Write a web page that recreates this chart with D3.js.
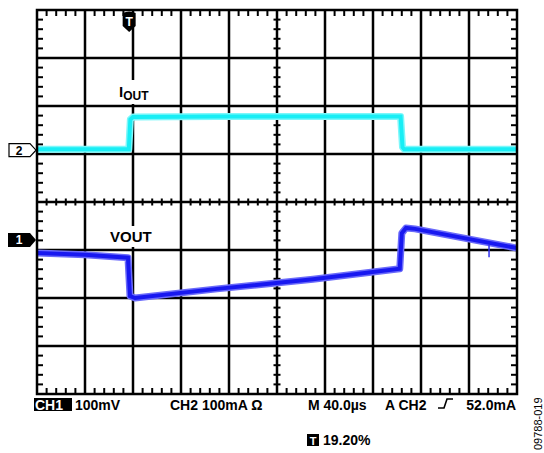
<!DOCTYPE html>
<html>
<head>
<meta charset="utf-8">
<script src="https://cdn.jsdelivr.net/npm/d3@7"></script>
<style>
  body { margin: 0; background: #fff; }
  svg text { font-family: "Liberation Sans", Arial, sans-serif; }
</style>
</head>
<body>
<div id="scope"></div>
<script>
// Screen size of the capture
var width = 544;
var height = 453;

// Graticule: 10 x 8 divisions, 5 minor ticks each
var xDivs = d3.range(0, 11);
var yDivs = d3.range(-4, 5);

// Time base: 40us/div, traces
var ch2Time = [0, 76.5, 77.8, 80, 150, 230, 303, 304.6, 306, 340, 400];
var ch2mA   = [2, 2, 64, 69, 70, 70, 70, 6, 2, 2, 2];

var ch1Time = [0, 40, 75.8, 77.5, 81.7, 150, 230, 302.3, 304, 307.5, 315, 400];
var ch1mV   = [-27, -31, -37, -117, -121, -102, -82, -60, 14, 25, 23, -17];

// small glitch on CH1 near the end of the record
var glitchTime = [376.7, 376.7];
var glitchmV   = [-10, -36];

// channel ground markers (in divisions from centre)
var ch1Offset = -0.79;
var ch2Offset = 1.08;

var svg = d3.select("#scope").append("svg")
  .attr("width", width)
  .attr("height", height);

var X = d3.scaleLinear().domain([0, 400]).range([37, 517]);
var Xdiv = d3.scaleLinear().domain([0, 10]).range([37, 517]);
var Ydiv = d3.scaleLinear().domain([-4, 4]).range([394, 10]);

// grid lines
var grid = svg.append("g");
grid.selectAll("line.v").data(xDivs.slice(1, -1)).enter().append("line")
  .attr("x1", function(d) { return Xdiv(d); })
  .attr("x2", function(d) { return Xdiv(d); })
  .attr("y1", Ydiv(4)).attr("y2", Ydiv(-4))
  .attr("stroke", "#000").attr("stroke-width", 2.5);
grid.selectAll("line.h").data(yDivs.slice(1, -1)).enter().append("line")
  .attr("y1", function(d) { return Ydiv(d); })
  .attr("y2", function(d) { return Ydiv(d); })
  .attr("x1", Xdiv(0)).attr("x2", Xdiv(10))
  .attr("stroke", "#000").attr("stroke-width", 2.5);

// minor ticks
var minorX = d3.range(0, 50).map(function(i) { return i / 5; }).filter(function(d) { return d % 1 !== 0; });
var minorY = d3.range(-20, 20).map(function(i) { return i / 5; }).filter(function(d) { return d % 1 !== 0; });

function tickLines(data, fn) {
  grid.append("g").selectAll("line").data(data).enter().append("line")
    .each(function(d) {
      var c = fn(d);
      d3.select(this).attr("x1", c[0]).attr("y1", c[1]).attr("x2", c[2]).attr("y2", c[3]);
    })
    .attr("stroke", "#000").attr("stroke-width", 2);
}
tickLines(minorX, function(d) { return [Xdiv(d), Ydiv(4), Xdiv(d), Ydiv(4) + 6]; });
tickLines(minorX, function(d) { return [Xdiv(d), Ydiv(-4), Xdiv(d), Ydiv(-4) - 6]; });
tickLines(minorX, function(d) { return [Xdiv(d), Ydiv(0) - 3.5, Xdiv(d), Ydiv(0) + 3.5]; });
tickLines(minorY, function(d) { return [Xdiv(0), Ydiv(d), Xdiv(0) + 6, Ydiv(d)]; });
tickLines(minorY, function(d) { return [Xdiv(10), Ydiv(d), Xdiv(10) - 6, Ydiv(d)]; });
tickLines(minorY, function(d) { return [Xdiv(5) - 3.5, Ydiv(d), Xdiv(5) + 3.5, Ydiv(d)]; });

// label backgrounds cut the grid
svg.append("rect").attr("x", 112).attr("y", 80).attr("width", 42).attr("height", 24).attr("fill", "#fff");
svg.append("rect").attr("x", 106).attr("y", 226).attr("width", 52).attr("height", 21).attr("fill", "#fff");

// traces
var line2 = d3.line()
  .x(function(d, i) { return X(ch2Time[i]); })
  .y(function(d) { return Ydiv(ch2Offset + d / 100); });
var line1 = d3.line()
  .x(function(d, i) { return X(ch1Time[i]); })
  .y(function(d) { return Ydiv(ch1Offset + d / 100); });
var lineG = d3.line()
  .x(function(d, i) { return X(glitchTime[i]); })
  .y(function(d) { return Ydiv(ch1Offset + d / 100); });

svg.append("path").datum(ch2mA).attr("d", line2)
  .attr("fill", "none").attr("stroke", "#7cf7fa").attr("stroke-width", 7).attr("stroke-linejoin", "round");
svg.append("path").datum(ch2mA).attr("d", line2)
  .attr("fill", "none").attr("stroke", "#18eef5").attr("stroke-width", 4);
svg.append("path").datum(ch1mV).attr("d", line1)
  .attr("fill", "none").attr("stroke", "#6a6afa").attr("stroke-width", 7).attr("stroke-linejoin", "round");
svg.append("path").datum(ch1mV).attr("d", line1)
  .attr("fill", "none").attr("stroke", "#1818f0").attr("stroke-width", 4);
svg.append("path").datum(glitchmV).attr("d", lineG)
  .attr("fill", "none").attr("stroke", "#3030f0").attr("stroke-width", 1.5);

// outer frame
svg.append("rect")
  .attr("x", Xdiv(0)).attr("y", Ydiv(4))
  .attr("width", Xdiv(10) - Xdiv(0)).attr("height", Ydiv(-4) - Ydiv(4))
  .attr("fill", "none").attr("stroke", "#000").attr("stroke-width", 2.5);

// trace labels
var iout = svg.append("text").attr("x", 119).attr("y", 97)
  .attr("font-size", 15).attr("font-weight", "bold");
iout.append("tspan").text("I");
iout.append("tspan").attr("font-size", 12).attr("dy", 3).text("OUT");

svg.append("text").attr("x", 110).attr("y", 242)
  .attr("font-size", 15).attr("font-weight", "bold").text("VOUT");

// channel markers
var y2 = Ydiv(ch2Offset), y1 = Ydiv(ch1Offset);
svg.append("path")
  .attr("d", "M9," + (y2 - 6.5) + "H30L36," + y2 + "L30," + (y2 + 6.5) + "H9Z")
  .attr("fill", "#fff").attr("stroke", "#000").attr("stroke-width", 1.2);
svg.append("text").attr("x", 19).attr("y", y2 + 4.5).attr("text-anchor", "middle")
  .attr("font-size", 12).attr("font-weight", "bold").text("2");
svg.append("path")
  .attr("d", "M8," + (y1 - 7) + "H30L36," + y1 + "L30," + (y1 + 7) + "H8Z")
  .attr("fill", "#000");
svg.append("text").attr("x", 19).attr("y", y1 + 4.5).attr("text-anchor", "middle")
  .attr("font-size", 12).attr("font-weight", "bold").attr("fill", "#fff").text("1");

// trigger marker
var tx = X(76.8);
svg.append("path")
  .attr("d", "M" + (tx - 6.5) + ",13Q" + tx + ",10 " + (tx + 6.5) + ",13V26L" + tx + ",32L" + (tx - 6.5) + ",26Z")
  .attr("fill", "#000");
svg.append("text").attr("x", tx).attr("y", 26).attr("text-anchor", "middle")
  .attr("font-size", 12).attr("font-weight", "bold").attr("fill", "#fff").text("T");

// readout line
var ry = 410;
svg.append("rect").attr("x", 34).attr("y", 398).attr("width", 38).attr("height", 13).attr("fill", "#000");
svg.append("text").attr("x", 35).attr("y", ry).attr("font-size", 14).attr("font-weight", "bold")
  .attr("fill", "#fff").text("CH1");
svg.append("text").attr("x", 75).attr("y", ry).attr("font-size", 14).attr("font-weight", "bold").text("100mV");
svg.append("text").attr("x", 170).attr("y", ry).attr("font-size", 14).attr("font-weight", "bold").text("CH2 100mA \u03A9");
svg.append("text").attr("x", 308).attr("y", ry).attr("font-size", 14).attr("font-weight", "bold").text("M 40.0\u00B5s");
svg.append("text").attr("x", 385).attr("y", ry).attr("font-size", 14).attr("font-weight", "bold").text("A CH2");
svg.append("path").attr("d", "M438,408H444L447,399H453")
  .attr("fill", "none").attr("stroke", "#000").attr("stroke-width", 1.6);
svg.append("text").attr("x", 516).attr("y", ry).attr("text-anchor", "end")
  .attr("font-size", 14).attr("font-weight", "bold").text("52.0mA");

svg.append("rect").attr("x", 307).attr("y", 434).attr("width", 12).attr("height", 12).attr("fill", "#000");
svg.append("text").attr("x", 313).attr("y", 444.5).attr("text-anchor", "middle")
  .attr("font-size", 11).attr("font-weight", "bold").attr("fill", "#fff").text("T");
svg.append("text").attr("x", 323).attr("y", 445).attr("font-size", 14).attr("font-weight", "bold").text("19.20%");

svg.append("text")
  .attr("transform", "translate(542,450)rotate(-90)")
  .attr("font-size", 11).text("09788-019");
</script>
</body>
</html>
